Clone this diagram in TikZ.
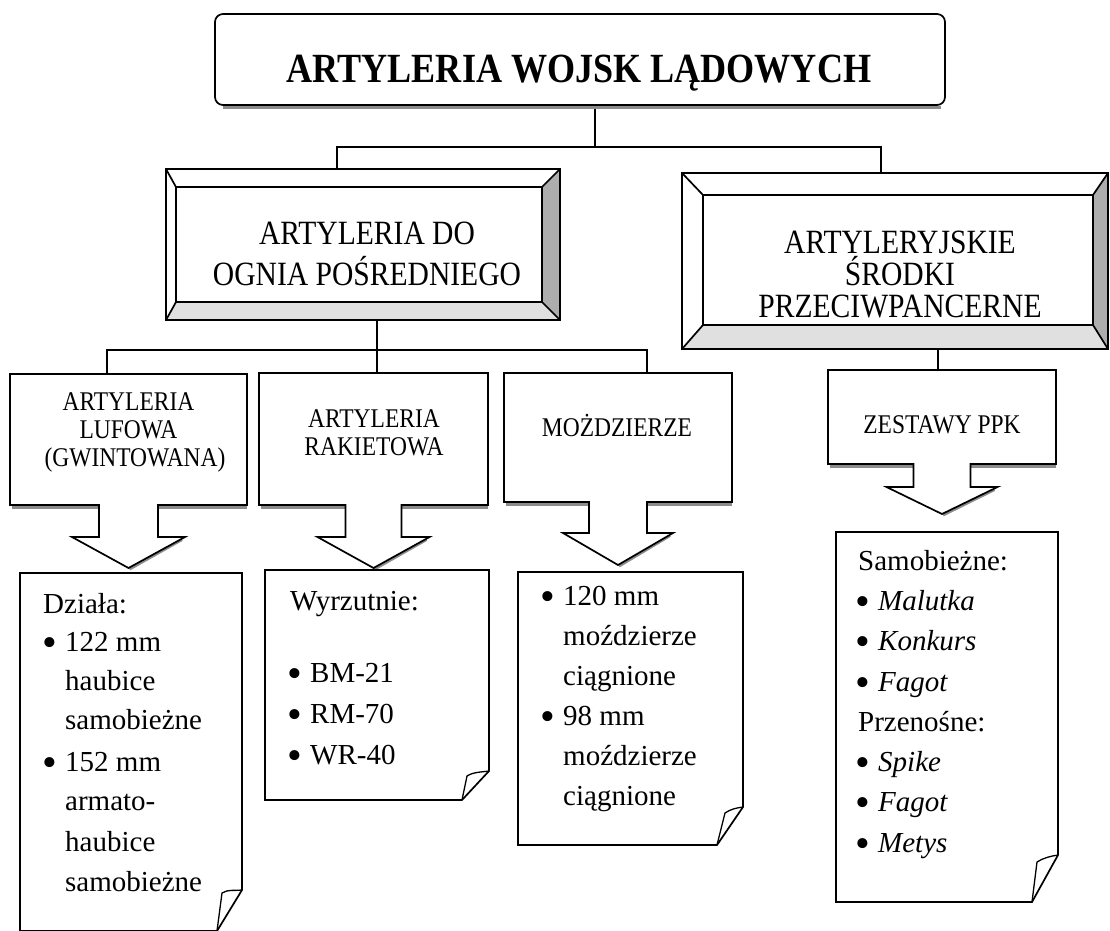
\documentclass[tikz,border=0pt]{standalone}
\usepackage{fontspec}
\usepackage{graphicx}
\setmainfont{Liberation Serif}
\newfontfamily\narrowfont{Liberation Serif}[FakeStretch=0.87]
\usetikzlibrary{calc}

\tikzset{
  outline/.style={draw=black, line width=1.7pt, line join=miter},
  link/.style={draw=black, line width=1.5pt},
  shade line/.style={draw=black!45, line width=3pt},
  face right/.style={fill=black!32},
  face bottom/.style={fill=black!12},
  frame/.style={inner sep=0pt, outer sep=0pt},
  titletext/.style={font=\narrowfont\bfseries\fontsize{41.5}{45}\selectfont, anchor=base, inner sep=0pt},
  beveltext/.style={font=\narrowfont\fontsize{34}{41}\selectfont, anchor=base, inner sep=0pt},
  boxtext/.style={font=\narrowfont\fontsize{27}{30}\selectfont, anchor=base, inner sep=0pt},
  notetext/.style={font=\fontsize{29}{34}\selectfont, anchor=base west, inner sep=0pt},
}

% bullet followed by a fixed indent
\newcommand\bul{\makebox[20pt][l]{\hspace*{-3pt}\raisebox{-0.19em}{\scalebox{1.45}{\textbullet}}}}

% bevelled frame: outer node #1, inner node #2
\newcommand\bevelframe[2]{%
  \fill[white] (#1.north west) rectangle (#1.south east);
  \fill[face right] (#1.north east) -- (#1.south east) -- (#2.south east) -- (#2.north east) -- cycle;
  \fill[face bottom] (#1.south west) -- (#1.south east) -- (#2.south east) -- (#2.south west) -- cycle;
  \draw[outline] (#1.north west) rectangle (#1.south east);
  \draw[outline] (#2.north west) rectangle (#2.south east);
  \draw[outline] (#1.north west) -- (#2.north west)
                 (#1.north east) -- (#2.north east)
                 (#1.south east) -- (#2.south east)
                 (#1.south west) -- (#2.south west);
}

% box with a block arrow below it: node, shaft half width, head half width, shaft length, head length
\newcommand\arrowbox[5]{%
  \draw[shade line] ($(#1.south west)+(2,2.5)$) -- ($(#1.south)+(-#2,2.5)$);
  \draw[shade line] ($(#1.south)+(#2,2.5)$) -- ($(#1.south east)+(0,2.5)$);
  \draw[shade line] ($(#1.south)+(1,#4+#5+1)$) -- ($(#1.south)+(#3-3,#4+2.5)$);
  \draw[outline, fill=white] (#1.north west) -- (#1.north east) -- (#1.south east)
    -- ($(#1.south)+(#2,0)$) -- ($(#1.south)+(#2,#4)$) -- ($(#1.south)+(#3,#4)$)
    -- ($(#1.south)+(0,#4+#5)$) -- ($(#1.south)+(-#3,#4)$) -- ($(#1.south)+(-#2,#4)$)
    -- ($(#1.south)+(-#2,0)$) -- (#1.south west) -- cycle;
}

% note sheet with a curled lower right corner: node, corner rise, corner run, curl point x, curl point y
\newcommand\notesheet[5]{%
  \draw[outline, fill=white] (#1.north west) -- (#1.north east) -- ($(#1.south east)+(0,-#2)$)
    -- ($(#1.south east)+(-#3,0)$) -- (#1.south west) -- cycle;
  \draw[outline, line width=1.3pt] ($(#1.south east)+(0,-#2)$)
    .. controls ($(#1.south east)+(-7,-#2+1)$) and ($(#1.south east)+(#4+6,#5-4)$) .. ($(#1.south east)+(#4,#5)$)
    -- ($(#1.south east)+(-#3,0)$);
}

\begin{document}
\begin{tikzpicture}[x=1pt, y=-1pt]
\fill[white] (0,0) rectangle (1110,930);
\clip (0,0) rectangle (1110,930);

% ---------- frames ----------
\node[frame, minimum width=730pt, minimum height=91pt] (top) at (580,59.5) {};
\node[frame, minimum width=394pt, minimum height=151pt] (ogn) at (363,244.5) {};
\node[frame, minimum width=366pt, minimum height=115pt] (ogn-in) at (359,244.5) {};
\node[frame, minimum width=426pt, minimum height=176pt] (ppanc) at (895,261) {};
\node[frame, minimum width=390pt, minimum height=130pt] (ppanc-in) at (898,260) {};

\node[frame, minimum width=237pt, minimum height=131pt] (lufowa) at (128.5,439.5) {};
\node[frame, minimum width=229pt, minimum height=132pt] (rakiet) at (373.5,439) {};
\node[frame, minimum width=228pt, minimum height=129pt] (mozdz) at (618,437.5) {};
\node[frame, minimum width=228pt, minimum height=94pt] (zestawy) at (942,417) {};

\node[frame, minimum width=222pt, minimum height=358pt] (n1) at (131,752) {};
\node[frame, minimum width=224pt, minimum height=230pt] (n2) at (377,685) {};
\node[frame, minimum width=225pt, minimum height=273pt] (n3) at (630.5,708.5) {};
\node[frame, minimum width=222pt, minimum height=370pt] (n4) at (947,717) {};

% ---------- connectors ----------
\coordinate (tj) at (595,147);
\coordinate (busA) at (337,147);
\coordinate (busB) at (881,147);
\draw[link] (tj |- top.south) -- (tj);
\draw[link] (busA |- ogn.north) -- (busA) -- (busB) -- (busB |- ppanc.north);

\coordinate (oj) at (377,350);
\coordinate (bus1) at (107,350);
\coordinate (bus3) at (647,350);
\draw[link] (oj |- ogn.south) -- (oj);
\draw[link] (bus1 |- lufowa.north) -- (bus1) -- (bus3) -- (bus3 |- mozdz.north);
\draw[link] (oj) -- (oj |- rakiet.north);

\coordinate (pj) at (938,349);
\draw[link] (pj |- ppanc.south) -- (pj |- zestawy.north);

% ---------- title ----------
\draw[shade line] ($(top.south west)+(8,2.5)$) -- ($(top.south east)+(-4,2.5)$);
\draw[outline, fill=white, rounded corners=8pt] (top.north west) rectangle (top.south east);
\node[titletext] (top-t) at (579,82) {ARTYLERIA WOJSK LĄDOWYCH};

% ---------- bevelled frames ----------
\bevelframe{ogn}{ogn-in}
\node[beveltext] (ogn-t1) at (367,244) {ARTYLERIA DO};
\node[beveltext] (ogn-t2) at (367,285) {OGNIA POŚREDNIEGO};

\bevelframe{ppanc}{ppanc-in}
\node[beveltext] (pp-t1) at (900,253) {ARTYLERYJSKIE};
\node[beveltext] (pp-t2) at (900,285) {ŚRODKI};
\node[beveltext] (pp-t3) at (900,317) {PRZECIWPANCERNE};

% ---------- boxes with arrows ----------
\arrowbox{lufowa}{29.5}{56.5}{32}{31}
\arrowbox{rakiet}{28}{56}{32}{31}
\arrowbox{mozdz}{29}{55}{31}{32}
\arrowbox{zestawy}{28.5}{55.5}{23}{27}

\node[boxtext] (luf-t1) at (128.5,410) {ARTYLERIA};
\node[boxtext] (luf-t2) at (128.5,438) {LUFOWA};
\node[boxtext] (luf-t3) at (135,466) {(GWINTOWANA)};
\node[boxtext] (rak-t1) at (374,427) {ARTYLERIA};
\node[boxtext] (rak-t2) at (374,455) {RAKIETOWA};
\node[boxtext] (moz-t) at (617,436) {MOŻDZIERZE};
\node[boxtext] (zes-t) at (942,433) {ZESTAWY PPK};

% ---------- note sheets ----------
\notesheet{n1}{41}{25}{-20}{-38}
\notesheet{n2}{29}{27}{-22}{-24}
\notesheet{n3}{38}{26}{-18}{-32}
\notesheet{n4}{47}{26}{-21}{-40}

\node[notetext] (n1-1) at (43,613) {Działa:};
\node[notetext] (n1-2) at (45,651) {\bul 122 mm};
\node[notetext] (n1-3) at (65,690) {haubice};
\node[notetext] (n1-4) at (65,729) {samobieżne};
\node[notetext] (n1-5) at (45,771) {\bul 152 mm};
\node[notetext] (n1-6) at (65,810) {armato-};
\node[notetext] (n1-7) at (65,851) {haubice};
\node[notetext] (n1-8) at (65,891) {samobieżne};

\node[notetext] (n2-1) at (290,610) {Wyrzutnie:};
\node[notetext] (n2-2) at (290,682) {\bul BM-21};
\node[notetext] (n2-3) at (290,723) {\bul RM-70};
\node[notetext] (n2-4) at (290,764) {\bul WR-40};

\node[notetext] (n3-1) at (543,605) {\bul 120 mm};
\node[notetext] (n3-2) at (563,645) {moździerze};
\node[notetext] (n3-3) at (563,685) {ciągnione};
\node[notetext] (n3-4) at (543,725) {\bul 98 mm};
\node[notetext] (n3-5) at (563,765) {moździerze};
\node[notetext] (n3-6) at (563,805) {ciągnione};

\node[notetext] (n4-1) at (858,570) {Samobieżne:};
\node[notetext] (n4-2) at (858,610) {\bul\textit{Malutka}};
\node[notetext] (n4-3) at (858,650) {\bul\textit{Konkurs}};
\node[notetext] (n4-4) at (858,691) {\bul\textit{Fagot}};
\node[notetext] (n4-5) at (858,731) {Przenośne:};
\node[notetext] (n4-6) at (858,771) {\bul\textit{Spike}};
\node[notetext] (n4-7) at (858,811) {\bul\textit{Fagot}};
\node[notetext] (n4-8) at (858,852) {\bul\textit{Metys}};
\end{tikzpicture}
\end{document}
